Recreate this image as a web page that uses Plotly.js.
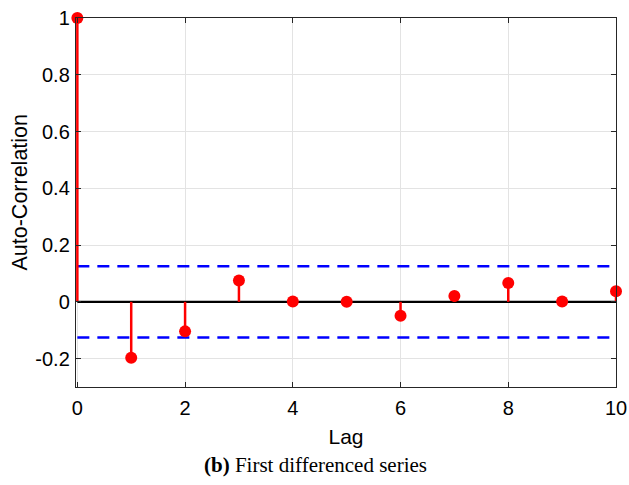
<!DOCTYPE html>
<html>
<head>
<meta charset="utf-8">
<script src="https://cdn.plot.ly/plotly-3.0.1.min.js"></script>
<style>html,body{margin:0;padding:0;background:#fff;}#chart{width:629px;height:485px;}</style>
</head>
<body>
<div id="chart"></div>
<script>
const lags = [0, 1, 2, 3, 4, 5, 6, 7, 8, 9, 10];
const acf = [1, -0.197, -0.104, 0.075, 0.001, 0.0, -0.049, 0.021, 0.066, 0.001, 0.037];
const confBound = 0.1256;
const xTicks = [0, 2, 4, 6, 8, 10];
const yTicks = [-0.2, 0, 0.2, 0.4, 0.6, 0.8, 1];
const yTickText = ['-0.2', '0', '0.2', '0.4', '0.6', '0.8', '1'];

const stemX = [], stemY = [];
lags.forEach((k, i) => { stemX.push(k, k, null); stemY.push(0, acf[i], null); });

const traces = [
  { x: [lags[0], lags[lags.length - 1]], y: [confBound, confBound], mode: 'lines',
    line: { color: '#0000ff', width: 2.5, dash: '12px,8px' }, hoverinfo: 'skip' },
  { x: [lags[0], lags[lags.length - 1]], y: [-confBound, -confBound], mode: 'lines',
    line: { color: '#0000ff', width: 2.5, dash: '12px,8px' }, hoverinfo: 'skip' },
  { x: [lags[0], lags[lags.length - 1]], y: [0, 0], mode: 'lines',
    line: { color: '#000000', width: 2.2 }, hoverinfo: 'skip' },
  { x: stemX, y: stemY, mode: 'lines', line: { color: '#ff0000', width: 2.5 } },
  { x: lags, y: acf, mode: 'markers', marker: { color: '#ff0000', size: 12 }, cliponaxis: false }
];

const layout = {
  width: 629, height: 485,
  margin: { l: 76, r: 13, t: 18, b: 98 },
  showlegend: false,
  paper_bgcolor: '#ffffff', plot_bgcolor: '#ffffff',
  font: { family: 'Liberation Sans, Arial, sans-serif', size: 20, color: '#000' },
  xaxis: {
    range: [-0.025, 10], tickvals: xTicks, ticktext: xTicks.map(String),
    showgrid: true, gridcolor: '#e3e3e3', gridwidth: 1,
    zeroline: false, showline: true, linecolor: '#262626', linewidth: 1.2, mirror: 'ticks',
    ticks: 'inside', ticklen: 5, tickcolor: '#262626',
    tickfont: { size: 20 }, ticklabelstandoff: 3,
    title: { text: 'Lag', font: { size: 21 }, standoff: 11 }
  },
  yaxis: {
    range: [-0.3, 1], tickvals: yTicks, ticktext: yTickText,
    showgrid: true, gridcolor: '#e3e3e3', gridwidth: 1,
    zeroline: false, showline: true, linecolor: '#262626', linewidth: 1.2, mirror: 'ticks',
    ticks: 'inside', ticklen: 5, tickcolor: '#262626',
    tickfont: { size: 20 }, ticklabelstandoff: 1
  },
  annotations: [{
    text: 'Auto-Correlation',
    xref: 'paper', yref: 'paper', x: -0.1037, y: 0.527, xanchor: 'center', yanchor: 'middle',
    textangle: -90, showarrow: false,
    font: { family: 'Liberation Sans, Arial, sans-serif', size: 21.5, color: '#000' }
  }, {
    text: '<b>(b)</b> First differenced series',
    xref: 'paper', yref: 'paper', x: 0.4435, y: -0.211, yanchor: 'middle', xanchor: 'center',
    showarrow: false,
    font: { family: 'Liberation Serif, Times New Roman, serif', size: 21, color: '#000' }
  }]
};

Plotly.newPlot('chart', traces, layout, { staticPlot: true, displayModeBar: false });
</script>
</body>
</html>
